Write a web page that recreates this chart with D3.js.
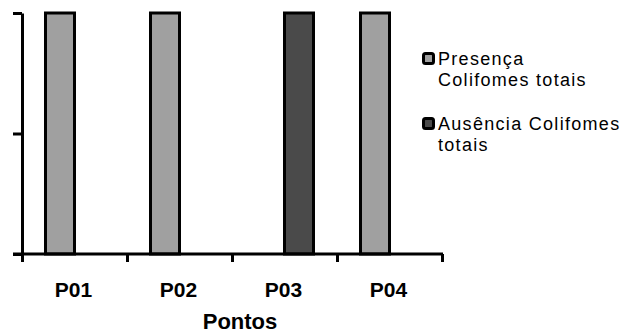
<!DOCTYPE html>
<html>
<head>
<meta charset="utf-8">
<script src="https://cdn.jsdelivr.net/npm/d3@7/dist/d3.min.js"></script>
<style>
  html, body { margin: 0; padding: 0; background: #fff; }
  svg { display: block; font-family: Arial, "Liberation Sans", sans-serif; }
</style>
</head>
<body>
<svg id="chart" width="627" height="334"></svg>
<script>
// Sampling points and coliform result per point (1 = observed)
const categories = ["P01", "P02", "P03", "P04"];
const seriesNames = ["Presença Coliformes totais", "Ausência Coliformes totais"];
const presenca = [1, 1, 0, 1];
const ausencia = [0, 0, 1, 0];
const yTicks = [0, 0.5, 1];
const legendLines = [["Presença", "Colifomes totais"], ["Ausência Colifomes", "totais"]];
const colors = ["#a0a0a0", "#4a4a4a"];

const svg = d3.select("#chart");
const plotLeft = 22, plotRight = 442, plotTop = 13, plotBottom = 254;

const x0 = d3.scaleBand().domain(categories).range([plotLeft, plotRight]).paddingInner(0).paddingOuter(0);
const bw = x0.bandwidth();
const x1 = d3.scaleBand().domain(seriesNames).range([bw / 2 - 29, bw / 2 + 29]).padding(0);
const y = d3.scaleLinear().domain([0, 1]).range([plotBottom, plotTop]);

const rows = categories.map((c, i) => ({ cat: c, vals: [presenca[i], ausencia[i]] }));

// Bars
const g = svg.append("g");
rows.forEach(r => {
  r.vals.forEach((v, si) => {
    if (v <= 0) return;
    g.append("rect")
      .attr("x", x0(r.cat) + x1(seriesNames[si]))
      .attr("y", y(v))
      .attr("width", x1.bandwidth())
      .attr("height", y(0) - y(v))
      .attr("fill", colors[si])
      .attr("stroke", "#000")
      .attr("stroke-width", 3);
  });
});

// Y axis (ticks only, no labels)
const yAxis = svg.append("g")
  .attr("transform", `translate(${plotLeft},0)`)
  .call(d3.axisLeft(y).tickValues(yTicks).tickSize(9).tickSizeOuter(0).tickFormat(""));
yAxis.selectAll("path, line").attr("stroke", "#000").attr("stroke-width", 3);

// X axis with boundary ticks between categories
const xb = d3.scaleLinear().domain([0, categories.length]).range([plotLeft, plotRight]);
const xAxis = svg.append("g")
  .attr("transform", `translate(0,${plotBottom})`)
  .call(d3.axisBottom(xb).tickValues(d3.range(categories.length + 1)).tickSize(8).tickSizeOuter(0).tickFormat(""));
xAxis.selectAll("path, line").attr("stroke", "#000").attr("stroke-width", 3);
xAxis.select("path.domain").attr("d", `M${plotLeft - 9},0H${plotRight + 1}`);

// Category labels
svg.append("g").selectAll("text")
  .data(categories)
  .join("text")
  .attr("x", d => x0(d) + bw / 2 - 1)
  .attr("y", 297)
  .attr("text-anchor", "middle")
  .attr("font-size", 21)
  .attr("font-weight", "bold")
  .attr("fill", "#000")
  .text(d => d);

// Axis title
svg.append("text")
  .attr("x", 240)
  .attr("y", 329)
  .attr("text-anchor", "middle")
  .attr("font-size", 22)
  .attr("font-weight", "bold")
  .attr("fill", "#000")
  .text("Pontos");

// Legend
const legendTops = [52, 117];
legendLines.forEach((lines, i) => {
  const lg = svg.append("g").attr("transform", `translate(422,${legendTops[i]})`);
  lg.append("rect")
    .attr("x", 1.5).attr("y", 1.5)
    .attr("width", 10).attr("height", 10)
    .attr("rx", 2).attr("ry", 2)
    .attr("fill", colors[i])
    .attr("stroke", "#000")
    .attr("stroke-width", 3);
  lines.forEach((t, j) => {
    lg.append("text")
      .attr("x", 16)
      .attr("y", 12.5 + j * 21)
      .attr("font-size", 18)
      .attr("letter-spacing", 1.3)
      .attr("fill", "#000")
      .text(t);
  });
});
</script>
</body>
</html>
